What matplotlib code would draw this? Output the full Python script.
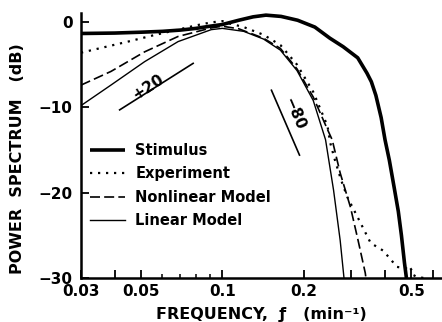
import matplotlib
matplotlib.use('Agg')
import matplotlib.pyplot as plt
from matplotlib.ticker import FixedLocator, NullFormatter

plt.rcParams['font.family'] = ['DejaVu Sans']
plt.rcParams['font.weight'] = 'bold'

# stimulus spectrum (thick solid)
stim_f = [0.03, 0.04, 0.05, 0.06, 0.07, 0.08, 0.09, 0.1, 0.115, 0.13, 0.145,
          0.165, 0.19, 0.22, 0.25, 0.28, 0.317, 0.343, 0.356, 0.37, 0.387,
          0.40, 0.415, 0.433, 0.448, 0.46, 0.472, 0.48]
stim_db = [-1.35, -1.3, -1.2, -1.1, -0.95, -0.75, -0.5, -0.3, 0.2, 0.6, 0.8,
           0.65, 0.2, -0.6, -1.9, -2.9, -4.2, -6.0, -7.0, -8.6, -11.2,
           -13.8, -16.2, -19.5, -22.2, -25.0, -28.2, -30.0]

# experiment (dotted)
exp_f = [0.03, 0.035, 0.0448, 0.055, 0.0686, 0.08, 0.091, 0.1, 0.107, 0.12,
         0.142, 0.164, 0.189, 0.217, 0.245, 0.251, 0.26, 0.275, 0.29, 0.317,
         0.354, 0.394, 0.443, 0.483, 0.49, 0.50, 0.505, 0.52, 0.555]
exp_db = [-3.6, -3.1, -2.3, -1.6, -0.9, -0.4, -0.05, 0.1, -0.2, -0.6,
          -1.5, -2.7, -5.0, -8.2, -12.2, -14.2, -16.0, -18.5, -20.5, -22.9,
          -25.9, -26.8, -28.7, -28.9, -28.6, -29.0, -29.6, -29.8, -30.0]

# nonlinear model (dashed)
nl_f = [0.03, 0.0387, 0.0516, 0.0686, 0.091, 0.1, 0.115, 0.142, 0.164, 0.189,
        0.217, 0.245, 0.255, 0.273, 0.298, 0.318, 0.338, 0.34]
nl_db = [-7.4, -5.8, -3.5, -1.7, -0.7, -0.5, -0.8, -1.9, -3.1, -5.5,
         -8.8, -12.6, -13.8, -17.7, -21.7, -25.6, -29.4, -30.0]

# linear model (thin solid)
lin_f = [0.03, 0.0387, 0.0516, 0.0686, 0.091, 0.1, 0.12, 0.142, 0.164, 0.189,
         0.217, 0.241, 0.258, 0.273, 0.282]
lin_db = [-9.8, -7.4, -4.65, -2.3, -0.9, -0.75, -1.1, -2.0, -3.3, -5.7,
          -9.2, -13.8, -19.7, -25.6, -30.0]

# slope reference lines (+20 and -80 dB/decade)
up_f = [0.0417, 0.078]
up_db = [-10.3, -4.85]
down_f = [0.152, 0.193]
down_db = [-8.0, -15.6]

xtick_vals = [0.03, 0.04, 0.05, 0.1, 0.2, 0.3, 0.4, 0.5, 0.6]
xtick_labels = ['0.03', '', '0.05', '0.1', '0.2', '', '', '0.5', '']
xminor_vals = [0.06, 0.07, 0.08, 0.09]
ytick_vals = [0, -10, -20, -30]

fig = plt.figure(figsize=(4.42, 3.22), dpi=100)
ax = fig.add_axes([81 / 442, 1 - 278 / 322, 361 / 442, 265 / 322])

ax.plot(stim_f, stim_db, color='black', lw=2.6, solid_capstyle='butt', label='Stimulus')
ax.plot(exp_f, exp_db, color='black', lw=1.6, linestyle=(0, (1, 2.6)), label='Experiment')
ax.plot(nl_f, nl_db, color='black', lw=1.2, linestyle=(0, (6, 2.5)), label='Nonlinear Model')
ax.plot(lin_f, lin_db, color='black', lw=1.0, label='Linear Model')

ax.plot(up_f, up_db, color='black', lw=1.2)
ax.plot(down_f, down_db, color='black', lw=1.2)
ax.text(0.053, -7.6, '+20', rotation=33, ha='center', va='center', fontsize=11,
        fontweight='bold')
ax.text(0.184, -10.8, '\u221280', rotation=-67, ha='center', va='center', fontsize=11,
        fontweight='bold')

ax.set_xscale('log')
ax.set_xlim(0.03, 0.65)
ax.set_ylim(-30, 1.05)

ax.xaxis.set_major_locator(FixedLocator(xtick_vals))
ax.set_xticklabels(xtick_labels)
ax.xaxis.set_minor_locator(FixedLocator(xminor_vals))
ax.xaxis.set_minor_formatter(NullFormatter())
ax.set_yticks(ytick_vals)

for side in ['top', 'right']:
    ax.spines[side].set_visible(False)
for side in ['left', 'bottom']:
    ax.spines[side].set_linewidth(1.8)

ax.tick_params(axis='x', which='major', direction='in', length=6, width=1.3,
               pad=4, labelsize=11)
ax.tick_params(axis='x', which='minor', direction='in', length=3, width=1.1)
ax.tick_params(axis='y', which='major', direction='in', length=6, width=1.3,
               pad=6, labelsize=11)
for lbl in ax.get_xticklabels() + ax.get_yticklabels():
    lbl.set_fontweight('bold')

ax.set_xlabel('FREQUENCY,  \u0192   (min\u207b\u00b9)', fontsize=11.5,
              fontweight='bold', labelpad=6)
ax.set_ylabel('POWER  SPECTRUM   (dB)', fontsize=11.5, fontweight='bold')
ax.yaxis.set_label_coords(-0.155, 0.45)

leg = ax.legend(loc='upper left', bbox_to_anchor=(0.025, 0.51), frameon=False,
                fontsize=10.5, handlelength=2.4, handletextpad=0.7,
                labelspacing=0.58, borderpad=0, borderaxespad=0)
for t in leg.get_texts():
    t.set_fontweight('bold')

fig.savefig('out.png', dpi=100)
